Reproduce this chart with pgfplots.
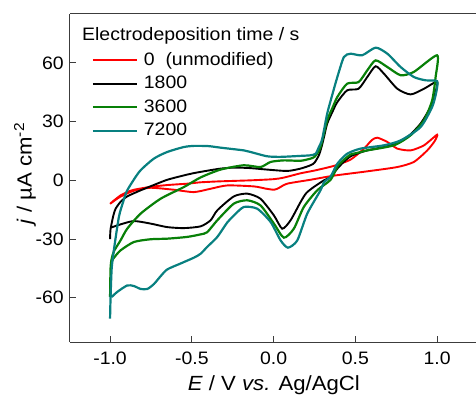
\documentclass[border=0pt]{standalone}
\usepackage{pgfplots}
\pgfplotsset{compat=1.18}
\usepackage{fontspec}
\setmainfont{Liberation Sans}[FakeStretch=1.08]
\definecolor{cvred}{RGB}{255,0,0}
\definecolor{cvgreen}{RGB}{8,128,8}
\definecolor{cvteal}{RGB}{8,128,128}
\definecolor{axgray}{RGB}{60,60,60}
\begin{document}
\fontsize{18}{22}\selectfont
\begin{tikzpicture}
\path[use as bounding box] (-70pt,-54pt) rectangle (406pt,342pt);
\begin{axis}[
  scale only axis, width=406pt, height=328pt,
  xmin=-1.245, xmax=1.238, ymin=-82.6, ymax=85,
  axis x line*=box, axis y line*=left,
  xtick pos=bottom, ytick pos=left,
  axis line style={axgray, line width=1pt},
  tick style={axgray, line width=1pt},
  tick align=inside, major tick length=6pt,
  xtick={-1,-0.5,0,0.5,1}, ytick={-60,-30,0,30,60},
  /pgf/number format/assume math mode=true,
  x tick label style={/pgf/number format/.cd, fixed, fixed zerofill, precision=1, /tikz/.cd, yshift=-4pt},
  y tick label style={/pgf/number format/.cd, fixed, /tikz/.cd},
  tick label style={font=\fontsize{18}{22}\selectfont},
  xlabel={\textit{E} / V \textit{vs.} Ag/AgCl},
  ylabel={\textit{j} / µA cm\textsuperscript{-2}},
  label style={font=\fontsize{20.5}{24}\selectfont},
  xlabel style={at={(axis description cs:0.502,-0.1479)}, anchor=base},
  ylabel style={at={(axis description cs:-0.0943,0.514)}, anchor=base},
  legend style={draw=none, fill=none, at={(rel axis cs:0.0542,0.887)}, anchor=north west,
    inner sep=0pt, outer sep=0pt, row sep=5.6pt, column sep=6pt,
    nodes={inner sep=0pt, text height=14pt, text depth=4pt},
    font=\fontsize{18}{22}\selectfont},
  legend cell align=left,
  legend image code/.code={\draw[line width=1.9pt, #1] (0pt,0pt) -- (44pt,0pt);},
  every axis plot/.append style={smooth, tension=0.4},
]
% 0 s (unmodified)
\addplot[cvred, line width=1.9pt] coordinates {
(-1.0,-12.0) (-0.975,-10.2) (-0.936,-7.7) (-0.895,-6.0) (-0.854,-4.8) (-0.75,-3.3) (-0.65,-2.4) (-0.528,-1.7) (-0.446,-1.0) (-0.324,-0.5) (-0.141,0.0) (0.0,0.6) (0.063,1.4) (0.165,3.6) (0.25,5.0) (0.369,7.4) (0.471,10.6) (0.553,16.2) (0.6,20.5) (0.634,21.8) (0.696,19.6) (0.757,16.2) (0.838,15.3) (0.92,17.9) (1.0,23.3)
(0.985,20.0) (0.94,15.3) (0.858,9.4) (0.757,6.8) (0.573,4.6) (0.369,2.4) (0.226,0.3) (0.084,-1.7) (0.03,-4.0) (0.002,-4.8) (-0.05,-4.2) (-0.12,-3.1) (-0.283,-2.6) (-0.385,-4.3) (-0.487,-6.0) (-0.61,-4.8) (-0.752,-3.8) (-0.854,-5.3) (-0.936,-8.3) (-1.0,-12.0)
};
\addlegendentry{0\ \ (unmodified)}
% 1800 s
\addplot[black, line width=1.9pt] coordinates {
(-1.0,-30) (-0.997,-25) (-0.98,-18) (-0.966,-14.5) (-0.936,-11) (-0.895,-8.2) (-0.813,-5.1) (-0.73,-2.3) (-0.65,0.3) (-0.55,2.5) (-0.487,3.7) (-0.4,5) (-0.324,6) (-0.243,6.5) (-0.15,6.3) (-0.04,5.5) (0.084,4.8) (0.165,6) (0.226,7.7) (0.25,9) (0.277,12.8) (0.293,17) (0.308,22) (0.328,29) (0.36,35) (0.39,40) (0.45,46) (0.52,46.8) (0.573,52.8) (0.624,58.3) (0.675,54.5) (0.757,46.8) (0.838,43.9) (0.92,46.8) (1.0,50.5)
(0.99,45) (0.96,37.5) (0.899,29) (0.818,22.1) (0.716,17.9) (0.573,15.3) (0.51,13.6) (0.471,12.3) (0.43,9.5) (0.39,6) (0.349,1.7) (0.308,0) (0.246,-3.4) (0.2,-6.5) (0.165,-11.1) (0.104,-20.4) (0.053,-24.7) (0.002,-17.9) (-0.08,-9.4) (-0.161,-6.8) (-0.243,-8.2) (-0.344,-15.3) (-0.385,-20.4) (-0.446,-23.5) (-0.548,-24.4) (-0.65,-23.9) (-0.752,-22.1) (-0.854,-20.8) (-0.936,-22.5) (-0.99,-24)
};
\addlegendentry{1800}
% 3600 s
\addplot[cvgreen, line width=2.2pt] coordinates {
(-1.0,-59.5) (-0.997,-45) (-0.99,-40) (-0.975,-36) (-0.936,-30.7) (-0.895,-24.7) (-0.813,-17) (-0.691,-9.4) (-0.548,-3.4) (-0.446,1.5) (-0.324,5.5) (-0.182,7.7) (-0.08,6.8) (-0.018,9.4) (0.063,10.2) (0.165,10) (0.226,11.1) (0.25,12) (0.277,15) (0.293,18.7) (0.328,30.7) (0.36,37) (0.39,42.6) (0.45,49.4) (0.52,50.2) (0.573,56.2) (0.624,61.3) (0.696,57.9) (0.777,53.7) (0.858,55.4) (1.0,63.9)
(0.991,52.8) (0.97,40.9) (0.92,30.7) (0.838,23) (0.736,17.9) (0.573,15.3) (0.51,14) (0.471,13.2) (0.43,10.5) (0.39,7) (0.349,0.3) (0.267,-5.1) (0.185,-13.6) (0.124,-24.7) (0.063,-29.3) (0.002,-22.1) (-0.08,-12.8) (-0.161,-10.2) (-0.243,-11.9) (-0.344,-20.4) (-0.406,-26.5) (-0.446,-27.6) (-0.528,-28.9) (-0.65,-29.8) (-0.752,-30.1) (-0.854,-31.5) (-0.936,-35.8) (-0.98,-40) (-0.995,-42.6)
};
\addlegendentry{3600}
% 7200 s
\addplot[cvteal, line width=2.2pt] coordinates {
(-1.0,-70.7) (-0.997,-60) (-0.99,-45) (-0.977,-35.8) (-0.946,-18.7) (-0.92,-11) (-0.895,-5.1) (-0.82,4.5) (-0.732,11.1) (-0.65,14.5) (-0.55,17) (-0.487,17.6) (-0.4,17.5) (-0.324,16.7) (-0.182,15.3) (-0.141,14.5) (-0.04,12.3) (0.043,12) (0.165,12.5) (0.226,12.8) (0.257,13.6) (0.277,17) (0.297,21) (0.328,34.1) (0.36,44) (0.39,52.8) (0.43,63) (0.471,64.7) (0.542,63.9) (0.624,67.8) (0.696,64.7) (0.777,57.9) (0.858,52.8) (0.93,51.1) (1.0,50.7)
(0.995,45) (0.97,37.5) (0.899,27.2) (0.777,20.4) (0.675,17.9) (0.532,16.2) (0.45,13.6) (0.39,8.5) (0.349,2) (0.308,-1) (0.287,-5.1) (0.206,-17) (0.145,-30.7) (0.088,-34.4) (0.043,-30.7) (-0.018,-21.3) (-0.1,-14.5) (-0.182,-13.6) (-0.243,-18) (-0.283,-21.5) (-0.345,-29) (-0.406,-34) (-0.446,-37.5) (-0.487,-39.5) (-0.569,-42.5) (-0.65,-45.5) (-0.691,-49) (-0.732,-53) (-0.772,-55.5) (-0.813,-55.5) (-0.854,-54) (-0.895,-53.7) (-0.956,-57) (-0.99,-59.6)
};
\addlegendentry{7200}
\node[anchor=base west, inner sep=0pt, font=\fontsize{18}{22}\selectfont] at (rel axis cs:0.0296,0.9195) {Electrodeposition time / s};
\end{axis}
\end{tikzpicture}
\end{document}
